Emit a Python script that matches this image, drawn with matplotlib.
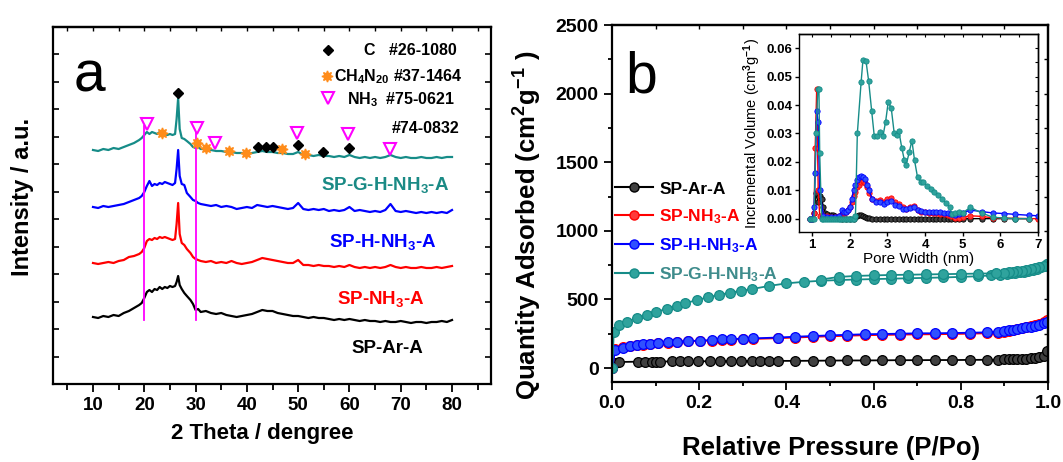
import matplotlib
matplotlib.use("Agg")
import matplotlib.pyplot as plt
from matplotlib.lines import Line2D

plt.rcParams["font.family"] = ["Liberation Sans", "DejaVu Sans"]
plt.rcParams["font.weight"] = "bold"
plt.rcParams["mathtext.fontset"] = "custom"
plt.rcParams["mathtext.rm"] = "Liberation Sans:bold"
plt.rcParams["mathtext.it"] = "Liberation Sans:bold"
plt.rcParams["mathtext.bf"] = "Liberation Sans:bold"
plt.rcParams["mathtext.default"] = "rm"

# ---------------- (a) XRD ----------------
two_theta = [10, 11, 12, 13, 14, 15, 16, 17, 18, 19, 19.5, 20, 20.5, 21, 21.5, 22, 22.5,
             23, 23.5, 24, 24.5, 25, 25.5, 26, 26.3, 26.6, 26.9, 27.3, 27.8, 28.3, 29,
             29.5, 30, 30.5, 31, 32, 33, 34, 35, 36, 37, 38, 39, 40, 41, 42, 43, 44, 45,
             46, 47, 48, 49, 50, 51, 52, 53, 54, 55, 56, 57, 58, 59, 60, 61, 62, 63, 64,
             65, 66, 67, 68, 69, 70, 71, 72, 73, 74, 75, 76, 77, 78, 79, 80]
xrd_ar = [67, 66, 68, 67, 69, 68, 71, 73, 76, 79, 81, 86, 92, 94, 92, 95, 94, 97, 95, 97,
          96, 98, 97, 98, 102, 108, 99, 95, 91, 88, 84, 80, 74, 75, 72, 73, 71, 70, 71, 69,
          68, 67, 68, 69, 70, 72, 74, 73, 73, 71, 70, 69, 68, 68, 67, 66, 67, 66, 66, 65,
          64, 65, 64, 65, 64, 63, 64, 63, 63, 62, 63, 62, 62, 63, 62, 61, 62, 62, 61, 62,
          62, 63, 62, 64]
xrd_nh3 = [121, 120, 121, 122, 121, 123, 124, 127, 128, 130, 132, 136, 143, 145, 144, 146,
           145, 147, 146, 147, 146, 145, 144, 145, 160, 181, 150, 141, 139, 135, 131, 127,
           125, 124, 123, 122, 123, 121, 122, 121, 123, 121, 120, 121, 122, 124, 126, 125,
           124, 123, 122, 121, 121, 124, 119, 119, 118, 119, 118, 118, 117, 118, 117, 119,
           117, 116, 117, 116, 117, 116, 117, 119, 117, 116, 117, 116, 116, 117, 116, 116,
           117, 116, 117, 118]
xrd_h = [177, 176, 178, 177, 178, 179, 180, 182, 184, 186, 188, 192, 198, 203, 198, 200,
         199, 201, 200, 202, 201, 200, 199, 201, 215, 234, 208, 200, 199, 191, 187, 184,
         183, 181, 180, 179, 178, 179, 177, 178, 177, 175, 176, 177, 176, 179, 178, 177,
         178, 177, 176, 175, 176, 181, 175, 174, 175, 174, 175, 173, 174, 173, 174, 177,
         173, 174, 173, 172, 173, 172, 174, 180, 173, 172, 173, 172, 171, 172, 171, 172,
         171, 172, 171, 174]
xrd_gh = [234, 233, 235, 234, 236, 235, 237, 239, 241, 244, 246, 249, 252, 250, 252, 251,
          250, 252, 251, 250, 249, 250, 249, 250, 265, 286, 255, 246, 245, 243, 240, 237,
          236, 237, 235, 235, 234, 233, 233, 232, 232, 231, 231, 230, 231, 232, 233, 232,
          232, 231, 231, 230, 230, 232, 229, 229, 228, 229, 228, 228, 227, 228, 227, 229,
          227, 226, 227, 226, 227, 226, 227, 229, 227, 226, 227, 226, 226, 227, 226, 226,
          227, 226, 227, 227]

c_peaks_x = [26.6, 42.2, 43.7, 45.0, 50.0, 54.9, 60.0]
c_peaks_y = [291, 237, 237, 237, 239, 232, 236]
ch4n20_x = [23.5, 30.2, 32.0, 36.5, 39.8, 46.8, 51.3]
ch4n20_y = [251, 241, 236, 233, 231, 235, 230]
nh3_x = [20.5, 30.2, 33.8, 49.7, 59.8, 67.9]
nh3_y = [260, 256, 241, 251, 250, 235]
ref_lines_x = [20, 30]
ref_lines_y = [64, 258]

# ---------------- (b) isotherms ----------------
p_ar = [0.001, 0.007, 0.017, 0.06, 0.076, 0.091, 0.102, 0.11, 0.137, 0.156, 0.175, 0.198,
        0.225, 0.248, 0.274, 0.297, 0.32, 0.34, 0.36, 0.38, 0.42, 0.46, 0.5, 0.54, 0.58,
        0.62, 0.66, 0.7, 0.74, 0.78, 0.82, 0.86, 0.885, 0.9, 0.91, 0.92, 0.93, 0.94, 0.95,
        0.96, 0.97, 0.98, 0.99, 0.997]
q_ar = [0, 38, 44, 46, 46, 47, 47, 47, 48, 48, 48, 49, 49, 50, 50, 50, 51, 51, 51, 52, 52,
        53, 54, 55, 55, 56, 57, 57, 58, 58, 59, 60, 61, 62, 63, 64, 65, 66, 68, 70, 73, 78,
        88, 125]
p_nh = [0.001, 0.007, 0.026, 0.041, 0.057, 0.072, 0.087, 0.106, 0.129, 0.148, 0.175, 0.202,
        0.229, 0.252, 0.274, 0.301, 0.324, 0.38, 0.42, 0.46, 0.5, 0.54, 0.58, 0.62, 0.66,
        0.7, 0.74, 0.78, 0.82, 0.86, 0.885, 0.9, 0.91, 0.92, 0.93, 0.94, 0.95, 0.96, 0.97,
        0.98, 0.99, 0.997]
q_nh3 = [0, 140, 152, 160, 166, 171, 175, 181, 184, 189, 194, 196, 200, 205, 207, 210, 212,
         217, 222, 227, 231, 235, 239, 241, 243, 245, 246, 248, 250, 253, 258, 264, 270, 276,
         283, 290, 298, 306, 315, 324, 336, 352]
q_h = [0, 131, 148, 160, 168, 173, 177, 184, 187, 192, 197, 199, 204, 209, 211, 214, 216,
       222, 228, 233, 238, 242, 246, 248, 250, 253, 253, 255, 257, 260, 265, 270, 275, 280,
       285, 290, 296, 302, 309, 316, 326, 338]
p_gh_ads = [0.001, 0.004, 0.015, 0.034, 0.057, 0.08, 0.102, 0.125, 0.148, 0.167, 0.194,
            0.22, 0.245, 0.27, 0.295, 0.32, 0.36, 0.4, 0.44, 0.48, 0.52, 0.56, 0.6, 0.64,
            0.68, 0.72, 0.76, 0.8, 0.84, 0.87, 0.89, 0.905, 0.915, 0.925, 0.935, 0.945,
            0.955, 0.965, 0.975, 0.985, 0.993, 0.998]
q_gh_ads = [0, 265, 313, 337, 364, 386, 410, 430, 452, 471, 495, 515, 533, 548, 562, 575,
            598, 617, 628, 636, 641, 645, 648, 651, 654, 657, 660, 664, 669, 675, 680, 685,
            689, 693, 698, 703, 709, 716, 724, 733, 744, 756]
p_gh_des = [0.998, 0.99, 0.98, 0.97, 0.96, 0.95, 0.94, 0.93, 0.92, 0.91, 0.9, 0.88, 0.84,
            0.8, 0.76, 0.72, 0.68, 0.64, 0.6, 0.56, 0.52, 0.48]
q_gh_des = [756, 745, 735, 727, 720, 714, 709, 705, 701, 698, 695, 690, 688, 686, 684, 682,
            680, 678, 675, 671, 664, 645]

# ---------------- (b) inset: pore size distribution ----------------
w_ar = [0.95, 1.0, 1.05, 1.1, 1.15, 1.2, 1.25, 1.3, 1.35, 1.4, 1.45, 1.5, 1.55, 1.6, 1.7,
        1.8, 1.9, 2.0, 2.1, 2.2, 2.25, 2.3, 2.35, 2.4, 2.45, 2.5, 2.6, 2.7, 2.8, 2.9, 3.0,
        3.1, 3.2, 3.3, 3.4, 3.5, 3.6, 3.7, 3.8, 3.9, 4.0, 4.1, 4.2, 4.3, 4.4, 4.5, 4.6,
        4.7, 4.8, 4.9, 5.0, 5.2, 5.5, 5.8, 6.1, 6.4, 6.75]
v_ar = [0, 0, 0.002, 0.009, 0.006, 0.008, 0.007, 0.004, 0.002, 0.0015, 0.001, 0.0012,
        0.0012, 0.0008, 0.0003, 0, 0, 0, 0, 0.0008, 0.0012, 0.0012, 0.001, 0.0006, 0.0003,
        0.0001, 0, 0, 0, 0, 0, 0, 0, 0, 0, 0, 0, 0, 0, 0, 0, 0, 0, 0, 0, 0, 0, 0, 0, 0, 0,
        0, 0, 0, 0, 0, 0]
w_nh = [0.95, 1.0, 1.05, 1.08, 1.12, 1.16, 1.2, 1.3, 1.4, 1.5, 1.6, 1.7, 1.8, 1.85, 1.9,
        1.95, 2.0, 2.05, 2.1, 2.15, 2.2, 2.25, 2.3, 2.35, 2.4, 2.45, 2.5, 2.6, 2.7, 2.8,
        2.9, 3.0, 3.1, 3.2, 3.3, 3.4, 3.5, 3.6, 3.7, 3.8, 3.9, 4.0, 4.1, 4.2, 4.3, 4.4,
        4.5, 4.6, 4.7, 4.8, 4.9, 5.0, 5.2, 5.5, 5.8, 6.1, 6.4, 6.75, 7.0]
v_nh3 = [0, 0, 0.002, 0.025, 0.0455, 0.01, 0.001, 0.0008, 0.0008, 0.0006, 0.0006, 0.0008,
         0.0015, 0.002, 0.0025, 0.003, 0.004, 0.006, 0.008, 0.0095, 0.011, 0.012, 0.013,
         0.0132, 0.0125, 0.011, 0.009, 0.007, 0.0062, 0.0065, 0.006, 0.007, 0.0072, 0.006,
         0.005, 0.004, 0.0035, 0.004, 0.0045, 0.003, 0.0025, 0.0022, 0.0021, 0.002, 0.0019,
         0.0018, 0.0016, 0.0013, 0.001, 0.0004, 0.0003, 0.0005, 0.001, 0.0008, 0.0003,
         0.0002, 0.0001, 0, 0]
v_h = [0, 0, 0.004, 0.016, 0.038, 0.034, 0.010, 0.0008, 0.0006, 0.0005, 0.0005, 0.0008,
       0.003, 0.0025, 0.0025, 0.003, 0.004, 0.007, 0.01, 0.012, 0.0135, 0.0145, 0.015,
       0.0148, 0.014, 0.012, 0.01, 0.007, 0.0057, 0.0058, 0.0052, 0.006, 0.0062, 0.0048,
       0.0045, 0.0035, 0.0033, 0.0038, 0.004, 0.003, 0.0027, 0.0025, 0.0024, 0.0023,
       0.0023, 0.0022, 0.0021, 0.002, 0.0015, 0.0013, 0.0015, 0.002, 0.003, 0.0025, 0.002,
       0.0018, 0.0015, 0.0012, 0.001]
w_gh = [0.95, 1.0, 1.05, 1.1, 1.15, 1.18, 1.2, 1.25, 1.3, 1.35, 1.4, 1.45, 1.5, 1.55, 1.6,
        1.65, 1.7, 1.75, 1.8, 1.85, 1.9, 1.95, 2.0, 2.05, 2.1, 2.15, 2.2, 2.3, 2.35, 2.43,
        2.5, 2.58, 2.65, 2.72, 2.8, 2.88, 2.95, 3.02, 3.1, 3.18, 3.25, 3.3, 3.38, 3.45, 3.5,
        3.58, 3.65, 3.72, 3.8, 3.88, 3.95, 4.05, 4.15, 4.25, 4.35, 4.45, 4.55, 4.65, 4.72,
        4.8, 4.9, 5.0, 5.2, 5.5, 5.8, 6.1, 6.4, 6.75]
v_gh = [0, 0, 0, 0.03, 0.0455, 0.0455, 0.023, 0, 0, 0, 0, 0, 0, 0, 0, 0, 0, 0, 0, 0, 0, 0,
        0, 0, 0, 0.001, 0.03, 0.048, 0.056, 0.0555, 0.0485, 0.038, 0.029, 0.029, 0.0305,
        0.029, 0.034, 0.041, 0.039, 0.030, 0.0295, 0.031, 0.025, 0.0205, 0.019, 0.0235,
        0.0275, 0.0205, 0.0145, 0.013, 0.013, 0.0115, 0.0105, 0.0095, 0.0085, 0.007, 0.0055,
        0.004, 0.0015, 0.002, 0.0025, 0.002, 0.004, 0.002, 0.0005, 0.0002, 0, 0]

labels = ["SP-Ar-A", "SP-NH$_3$-A", "SP-H-NH$_3$-A", "SP-G-H-NH$_3$-A"]
colors = ["#000000", "#ff0000", "#0000ff", "#168c88"]
faces = ["#404040", "#ff3a3a", "#3050ff", "#2fa39d"]

fig = plt.figure(figsize=(10.63, 4.62), dpi=100)

# ---------- panel a ----------
ax = fig.add_axes([53 / 1063, 1 - 384 / 462, 438 / 1063, 357 / 462])
for yv, c in zip([xrd_ar, xrd_nh3, xrd_h, xrd_gh], colors):
    ax.plot(two_theta, yv, color=c, lw=1.6)
for xv in ref_lines_x:
    ax.plot([xv, xv], ref_lines_y, color="#ff00ff", lw=1.3)
ax.plot(c_peaks_x, c_peaks_y, ls="none", marker="D", ms=5, color="black")
ax.plot(ch4n20_x, ch4n20_y, ls="none", marker=(8, 1, 0), ms=8, color="#ff8c1a")
ax.plot(nh3_x, nh3_y, ls="none", marker="v", ms=9, mfc="white", mec="#ff00ff", mew=1.5)
ax.set_xlim(2.2, 87.6)
ax.set_ylim(0, 357)
ax.set_xticks(range(10, 81, 10))
ax.set_xticks(range(5, 90, 10), minor=True)
ax.set_yticks([27, 55, 82, 110, 137, 165, 192, 220, 247, 275, 302, 330])
ax.tick_params(axis="x", which="both", direction="out", labelsize=13.5, width=1.3)
ax.tick_params(axis="x", which="major", length=6)
ax.tick_params(axis="x", which="minor", length=4)
ax.tick_params(axis="y", direction="in", length=4, width=1.2, labelleft=False,
               right=True)
sec = ax.secondary_xaxis("top")
sec.set_xticks(range(5, 90, 5))
sec.tick_params(direction="in", length=3, width=1.0, labeltop=False)
for s in list(ax.spines.values()) + list(sec.spines.values()):
    s.set_linewidth(1.6)

ax.text(0.046, 0.818, "a", transform=ax.transAxes, fontsize=41, fontweight="normal",
        ha="left", va="baseline")
ax.text(0.758, 0.543, labels[3], color="#1a8a85", transform=ax.transAxes, fontsize=13.5,
        ha="center", va="baseline")
ax.text(0.752, 0.385, labels[2], color="#0000ff", transform=ax.transAxes, fontsize=13.5,
        ha="center", va="baseline")
ax.text(0.748, 0.224, labels[1], color="#ff0000", transform=ax.transAxes, fontsize=13.5,
        ha="center", va="baseline")
ax.text(0.764, 0.086, labels[0], color="black", transform=ax.transAxes, fontsize=13.5,
        ha="center", va="baseline")

# phase key
ax.plot([0.628], [0.936], transform=ax.transAxes, marker="D", ms=5, color="black")
ax.plot([0.626], [0.863], transform=ax.transAxes, marker=(8, 1, 0), ms=8, color="#ff8c1a")
ax.plot([0.628], [0.800], transform=ax.transAxes, marker="v", ms=9, mfc="white",
        mec="#ff00ff", mew=1.5)
ax.text(0.922, 0.922, "C   #26-1080", transform=ax.transAxes, fontsize=11.5, ha="right",
        va="baseline")
ax.text(0.936, 0.849, "CH$_4$N$_{20}$ #37-1464", transform=ax.transAxes, fontsize=11.5,
        ha="right", va="baseline")
ax.text(0.918, 0.784, "NH$_3$  #75-0621", transform=ax.transAxes, fontsize=11.5,
        ha="right", va="baseline")
ax.text(0.929, 0.703, "#74-0832", transform=ax.transAxes, fontsize=11.5, ha="right",
        va="baseline")

fig.text(23 / 1063, 1 - 197 / 462, "Intensity / a.u.", rotation=90, fontsize=17,
         ha="center", va="center")
fig.text(262 / 1063, 1 - 433 / 462, "2 Theta / dengree", fontsize=16, ha="center",
         va="center")

# ---------- panel b ----------
bx = fig.add_axes([612 / 1063, 1 - 382 / 462, 436 / 1063, 357 / 462])
mk = dict(marker="o", ms=7, mew=0.9, lw=1.3)
bx.plot(p_ar, q_ar, color=colors[0], mfc=faces[0], mec=colors[0], **mk)
bx.plot(p_nh, q_nh3, color=colors[1], mfc=faces[1], mec=colors[1], **mk)
bx.plot(p_nh, q_h, color=colors[2], mfc=faces[2], mec=colors[2], **mk)
bx.plot(p_gh_ads, q_gh_ads, color=colors[3], mfc=faces[3], mec=colors[3], **mk)
bx.plot(p_gh_des, q_gh_des, color=colors[3], mfc=faces[3], mec=colors[3], **mk)
bx.set_xlim(0, 1.0)
bx.set_ylim(-102, 2500)
bx.set_xticks([0, 0.2, 0.4, 0.6, 0.8, 1.0])
bx.set_xticks([0.1, 0.3, 0.5, 0.7, 0.9], minor=True)
bx.set_xticklabels(["0.0", "0.2", "0.4", "0.6", "0.8", "1.0"])
bx.set_yticks(range(0, 2501, 500))
bx.set_yticks(range(250, 2500, 500), minor=True)
bx.tick_params(which="both", direction="out", labelsize=14, width=1.3)
bx.tick_params(which="major", length=6)
bx.tick_params(which="minor", length=3)
bsec_x = bx.secondary_xaxis("top")
bsec_x.set_xticks([0.1 * i for i in range(1, 10)])
bsec_x.tick_params(direction="in", length=3, width=1.0, labeltop=False)
bsec_y = bx.secondary_yaxis("right")
bsec_y.set_yticks(range(250, 2500, 250))
bsec_y.tick_params(direction="in", length=3, width=1.0, labelright=False)
for s in list(bx.spines.values()) + list(bsec_x.spines.values()) + list(bsec_y.spines.values()):
    s.set_linewidth(1.6)

bx.text(0.030, 0.812, "b", transform=bx.transAxes, fontsize=41, fontweight="normal",
        ha="left", va="baseline")
handles = [Line2D([], [], color=c, mfc=f, mec=c, marker="o", ms=6.5, lw=1.5)
           for c, f in zip(colors, faces)]
bx.legend(handles, labels, loc="upper left", bbox_to_anchor=(0.007, 0.562),
          frameon=False, fontsize=12.5, handlelength=2.2, handletextpad=0.35,
          labelspacing=0.6, borderpad=0, borderaxespad=0,
          labelcolor=["black", "#ff0000", "#0000ff", "#3f8c8c"])

fig.text(528 / 1063, 1 - 225 / 462, "Quantity Adsorbed (cm$^2$g$^{-1}$ )", rotation=90,
         fontsize=18.5, ha="center", va="center")
fig.text(831 / 1063, 1 - 448 / 462, "Relative Pressure (P/Po)", fontsize=18.5,
         ha="center", va="center")

# ---------- inset ----------
ix = fig.add_axes([799 / 1063, 1 - 232 / 462, 239 / 1063, 198 / 462])
imk = dict(marker="o", ms=3.8, mew=0.6, lw=1.0)
ix.plot(w_ar, v_ar, color=colors[0], mfc=faces[0], mec=colors[0], **imk)
ix.plot(w_nh, v_nh3, color=colors[1], mfc=faces[1], mec=colors[1], **imk)
ix.plot(w_nh, v_h, color=colors[2], mfc=faces[2], mec=colors[2], **imk)
ix.plot(w_gh, v_gh, color=colors[3], mfc=faces[3], mec=colors[3], **imk)
ix.set_xlim(0.65, 7)
ix.set_ylim(-0.0047, 0.065)
ix.set_xticks(range(1, 8))
ix.set_yticks([0, 0.01, 0.02, 0.03, 0.04, 0.05, 0.06])
ix.set_yticklabels(["0.00", "0.01", "0.02", "0.03", "0.04", "0.05", "0.06"])
ix.tick_params(which="both", direction="out", labelsize=9.5, length=3, width=1.0, pad=2)
isec_x = ix.secondary_xaxis("top")
isec_x.set_xticks([1.5, 2.5, 3.5, 4.5, 5.5, 6.5, 1, 2, 3, 4, 5, 6])
isec_x.tick_params(direction="in", length=2, width=0.8, labeltop=False)
isec_y = ix.secondary_yaxis("right")
isec_y.set_yticks([0.005 * i for i in range(0, 13)])
isec_y.tick_params(direction="in", length=2, width=0.8, labelright=False)
for s in list(ix.spines.values()) + list(isec_x.spines.values()) + list(isec_y.spines.values()):
    s.set_linewidth(1.0)
ix.set_xlabel("Pore Width (nm)", fontsize=11, labelpad=1)
ix.set_ylabel("Incremental Volume (cm$^3$g$^{-1}$)", fontsize=10.5, labelpad=2)

fig.savefig("out.png", dpi=100)
